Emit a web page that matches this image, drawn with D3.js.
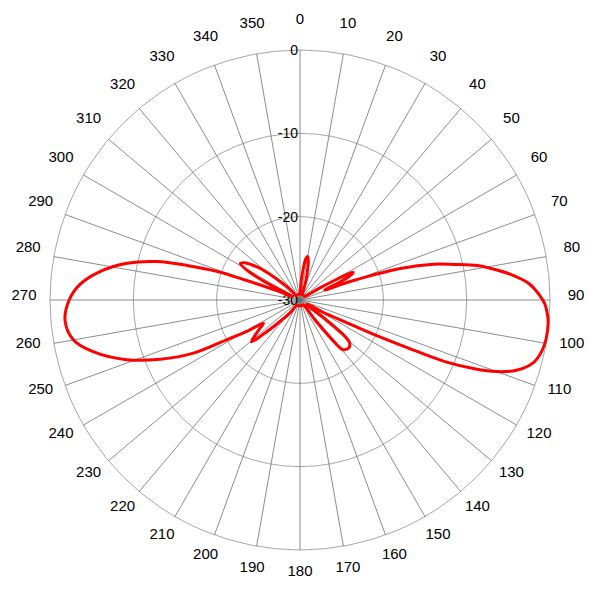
<!DOCTYPE html>
<html>
<head>
<meta charset="utf-8">
<script src="https://cdn.jsdelivr.net/npm/d3@7"></script>
<style>
  html, body { margin: 0; padding: 0; background: #fff; }
  svg { display: block; }
</style>
</head>
<body>
<svg id="chart" width="600" height="600"></svg>
<script>
// ---- data ----
const angleDeg = [
  0, 2, 4, 6, 8, 10, 12, 14, 17, 20, 23, 35, 45, 52, 56, 59, 60.5, 61.5, 62.5, 64, 66, 68,
  69.5, 71, 72.5, 75, 77, 79, 80.5, 83, 86, 89, 91, 93, 95, 99, 102, 105, 108, 110, 111.5, 113,
  114, 115, 116, 118, 121, 124, 127, 129, 131, 134, 137, 139.5, 141, 143, 146, 160, 180,
  200, 210, 218, 224, 227, 229.2, 232, 235, 237.6, 239.5, 241.3, 243.5, 247, 251, 256, 260,
  265, 270, 274, 278, 282, 285, 287, 289, 290, 292, 295, 297, 299, 301.5, 304, 306, 308.5,
  311, 313, 317, 322, 330, 345
];
const gainDb = [
  -29.3, -29, -27.5, -26.2, -25, -24.7, -25.2, -26.2, -27.5, -28.8, -29.3, -29.3, -29.3, -29.3, -29, -27, -25, -23.5, -22.8, -23.3, -25, -26.8,
  -24, -21, -17.4, -13.4, -11, -8.3, -6.9, -4.6, -2.4, -1.2, -0.6, -0.3, -0.1, -0.1, -0.35, -1, -2.7, -4.9, -7.5, -11,
  -16, -20, -24, -27, -29, -29, -26, -23, -22.1, -21.8, -21.9, -22.2, -24, -27, -29.3, -29.3, -29.3,
  -29.3, -29.3, -28, -26, -24, -22.3, -23.2, -24.2, -24.8, -22.5, -20.4, -15.7, -11.8, -8, -4.4, -2.4,
  -1.7, -2.3, -3.5, -5.7, -8.8, -12.2, -15.8, -19.4, -23, -27, -29, -26, -23, -21.6, -22, -22.8, -23.9,
  -25.5, -26.7, -28, -29.3, -29.3, -29.3
];
const ringValues = [0, -10, -20, -30];
const ringLabels = ["0", "-10", "-20", "-30"];
const spokeAngles = d3.range(0, 360, 10);
const spokeLabels = spokeAngles.map(String);

// ---- chart ----
const cx = 300, cy = 300, R = 250;
const svg = d3.select("#chart");
const g = svg.append("g").attr("transform", `translate(${cx},${cy})`);
const r = d3.scaleLinear().domain([-30, 0]).range([0, R]).clamp(true);
const rad = d => d * Math.PI / 180;

// rings
g.selectAll("circle.ring")
  .data(ringValues.filter(v => v > -30))
  .join("circle")
  .attr("class", "ring")
  .attr("r", d => r(d))
  .attr("fill", "none")
  .attr("stroke", "#a6a6a6")
  .attr("stroke-width", 1);

// spokes
g.selectAll("line.spoke")
  .data(spokeAngles)
  .join("line")
  .attr("class", "spoke")
  .attr("x1", 0).attr("y1", 0)
  .attr("x2", d => R * Math.sin(rad(d)))
  .attr("y2", d => -R * Math.cos(rad(d)))
  .attr("stroke", "#6e6e6e")
  .attr("stroke-width", 0.8);

// angle labels
g.selectAll("text.alabel")
  .data(spokeAngles)
  .join("text")
  .attr("class", "alabel")
  .attr("x", d => 276 * Math.sin(rad(d)))
  .attr("y", d => -276 * Math.cos(rad(d)))
  .attr("text-anchor", "middle")
  .attr("font-family", "Liberation Sans, Arial, sans-serif")
  .attr("font-size", 15)
  .attr("fill", "#000")
  .text((d, i) => spokeLabels[i]);

// ring labels
g.selectAll("text.rlabel")
  .data(ringValues)
  .join("text")
  .attr("class", "rlabel")
  .attr("x", -2)
  .attr("y", d => -r(d))
  .attr("dy", "0.35em")
  .attr("text-anchor", "end")
  .attr("font-family", "Liberation Sans, Arial, sans-serif")
  .attr("font-size", 14)
  .attr("fill", "#000")
  .text((d, i) => ringLabels[i]);

// pattern
const pts = angleDeg.map((a, i) => [rad(a), r(gainDb[i])]);
const line = d3.lineRadial()
  .angle(d => d[0])
  .radius(d => d[1])
  .curve(d3.curveCatmullRomClosed.alpha(0.5));
g.append("path")
  .attr("d", line(pts))
  .attr("fill", "none")
  .attr("stroke", "#ff0000")
  .attr("stroke-width", 3)
  .attr("stroke-linejoin", "round");
</script>
</body>
</html>
